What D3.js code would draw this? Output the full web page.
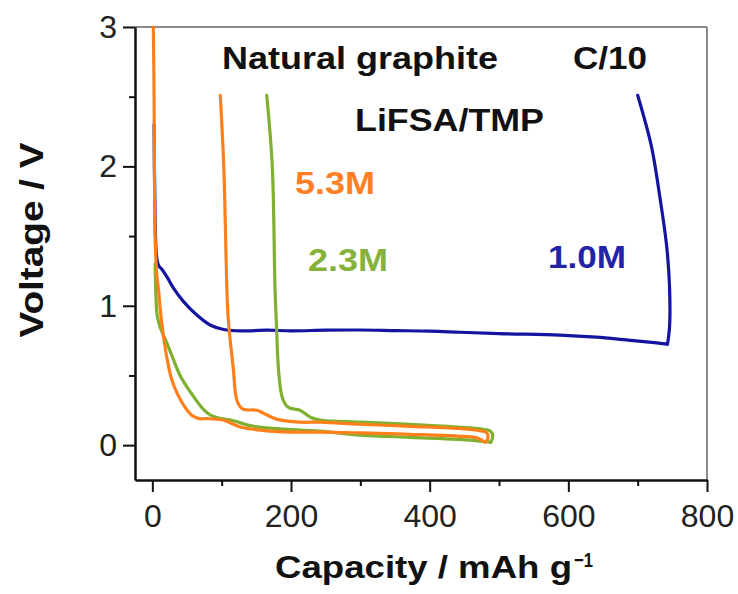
<!DOCTYPE html>
<html>
<head>
<meta charset="utf-8">
<script src="https://cdn.jsdelivr.net/npm/d3@7"></script>
<style>
  body { margin: 0; background: #fff; }
  svg text { font-family: "Liberation Sans", Arial, sans-serif; }
</style>
</head>
<body>
<svg id="svg1" width="738" height="594"></svg>
<script>
// [capacity mAh/g, voltage V]
var blueDischarge = [[2.5, 2.3], [3.5, 1.8], [6, 1.36], [9, 1.29], [14, 1.26], [22, 1.2], [30, 1.13], [45, 1.03],
  [65, 0.93], [84, 0.86], [103, 0.83], [127, 0.82], [166, 0.825], [200, 0.82], [250, 0.825], [300, 0.826],
  [350, 0.822], [400, 0.818], [444, 0.81], [500, 0.8], [588, 0.79], [640, 0.775], [684, 0.755], [720, 0.738], [743, 0.725]];
var blueCharge = [[743, 0.725], [746, 0.85], [746, 1.13], [742, 1.42], [732, 1.78], [720, 2.14], [700, 2.51]];

var greenDischarge = [[4, 1.3], [5, 1.1], [7, 0.93], [11, 0.85], [16, 0.79], [22, 0.72], [30, 0.62], [40, 0.5],
  [55, 0.38], [73, 0.26], [84, 0.215], [100, 0.19], [117, 0.175], [141, 0.14], [174, 0.12], [242, 0.1], [300, 0.072],
  [372, 0.056], [440, 0.042], [480, 0.026], [488, 0.02]];
var greenCharge = [[488, 0.02], [491, 0.06], [488, 0.1], [475, 0.115], [440, 0.13], [372, 0.15], [300, 0.165],
  [242, 0.18], [228, 0.2], [213, 0.25], [199, 0.265], [194, 0.28], [187, 0.35], [182, 0.54], [179, 0.87],
  [177, 1.11], [173, 2.0], [165, 2.51]];

var orangeDischarge = [[1.5, 3.0], [2.5, 2.5], [3, 2.0], [4, 1.5], [6, 1.25], [9, 1.11], [13, 0.9], [17, 0.75],
  [22, 0.6], [28, 0.47], [36, 0.37], [46, 0.28], [58, 0.21], [68, 0.19], [79, 0.19], [102, 0.18], [127, 0.13],
  [156, 0.108], [199, 0.094], [242, 0.094], [300, 0.088], [372, 0.078], [440, 0.065], [470, 0.05], [480, 0.02]];
var orangeCharge = [[480, 0.02], [484, 0.05], [482, 0.09], [470, 0.105], [440, 0.12], [372, 0.135], [300, 0.15],
  [242, 0.165], [213, 0.165], [180, 0.185], [160, 0.23], [151, 0.25], [130, 0.26], [122, 0.32], [117, 0.54],
  [115, 0.63], [110, 0.87], [108, 1.05], [103, 2.0], [98, 2.51]];

var xMajor = [0, 200, 400, 600, 800];
var xMinor = [100, 300, 500, 700];
var yMajor = [0, 1, 2, 3];
var yMinor = [0.5, 1.5, 2.5];

var blue = '#1414a0', green = '#7fb02f', orange = '#ff7f1a';

var svg = d3.select('svg');

var plotLeft = 135, plotRight = 707, plotTop = 27, plotBottom = 480;

var x = d3.scaleLinear().domain([-25, 800]).range([plotLeft, plotRight]);
var y = d3.scaleLinear().domain([-0.25, 3]).range([plotBottom, plotTop]);

// frame: top and right grey
svg.append('line').attr('x1', plotLeft).attr('x2', plotRight).attr('y1', plotTop).attr('y2', plotTop)
    .attr('stroke', '#8a8a8a').attr('stroke-width', 2);
svg.append('line').attr('x1', plotRight).attr('x2', plotRight).attr('y1', plotTop).attr('y2', plotBottom)
    .attr('stroke', '#8a8a8a').attr('stroke-width', 2);

// minor ticks
svg.append('g').attr('transform', 'translate(' + plotLeft + ',0)')
    .call(d3.axisLeft(y).tickValues(yMinor).tickSize(6).tickFormat(''))
    .call(function(g){ g.select('.domain').remove(); });
svg.append('g').attr('transform', 'translate(0,' + plotBottom + ')')
    .call(d3.axisBottom(x).tickValues(xMinor).tickSize(6).tickFormat(''))
    .call(function(g){ g.select('.domain').remove(); });

// major axes
var yAxis = svg.append('g').attr('transform', 'translate(' + plotLeft + ',0)')
    .call(d3.axisLeft(y).tickValues(yMajor).tickFormat(d3.format('d'))
      .tickSize(12).tickSizeOuter(0).tickPadding(6));
var xAxis = svg.append('g').attr('transform', 'translate(0,' + plotBottom + ')')
    .call(d3.axisBottom(x).tickValues(xMajor).tickFormat(d3.format('d'))
      .tickSize(12).tickSizeOuter(0).tickPadding(12));

svg.selectAll('.tick line').attr('stroke', '#111').attr('stroke-width', 2);
svg.selectAll('.domain').attr('stroke', '#111').attr('stroke-width', 2.5);
[yAxis, xAxis].forEach(function(a){
  a.selectAll('text').attr('font-size', 32).attr('fill', '#222')
      .attr('font-family', '"Liberation Sans", Arial, sans-serif');
});

// curves
var line = d3.line()
    .x(function(d){ return x(d[0]); })
    .y(function(d){ return y(d[1]); })
    .curve(d3.curveCatmullRom.alpha(0.5));

var curves = [
  {pts: blueDischarge, c: blue}, {pts: blueCharge, c: blue},
  {pts: greenDischarge, c: green}, {pts: greenCharge, c: green},
  {pts: orangeDischarge, c: orange}, {pts: orangeCharge, c: orange}
];

svg.selectAll('path.curve')
    .data(curves)
    .enter()
    .append('path')
    .attr('class', 'curve')
    .attr('d', function(d){ return line(d.pts); })
    .attr('fill', 'none')
    .attr('stroke', function(d){ return d.c; })
    .attr('stroke-width', 3.2)
    .attr('stroke-linejoin', 'round')
    .attr('stroke-linecap', 'round');

// annotations
var notes = [
  {t: 'Natural graphite', x: 222, y: 69, w: 276, c: '#111'},
  {t: 'C/10', x: 573, y: 69, w: 74, c: '#111'},
  {t: 'LiFSA/TMP', x: 355, y: 131, w: 189, c: '#111'},
  {t: '5.3M', x: 295, y: 194, w: 80, c: '#ff7f27'},
  {t: '2.3M', x: 308, y: 271, w: 80, c: '#86b23a'},
  {t: '1.0M', x: 548, y: 268, w: 78, c: '#2323a8'}
];

svg.selectAll('text.note')
    .data(notes)
    .enter()
    .append('text')
    .attr('class', 'note')
    .attr('x', function(d){ return d.x; })
    .attr('y', function(d){ return d.y; })
    .attr('textLength', function(d){ return d.w; })
    .attr('lengthAdjust', 'spacingAndGlyphs')
    .attr('font-size', 32)
    .attr('font-weight', 'bold')
    .attr('fill', function(d){ return d.c; })
    .text(function(d){ return d.t; });

// axis titles
svg.append('text')
    .attr('transform', 'translate(43,240) rotate(-90)')
    .attr('text-anchor', 'middle')
    .attr('textLength', 195)
    .attr('lengthAdjust', 'spacingAndGlyphs')
    .attr('font-size', 34)
    .attr('font-weight', 'bold')
    .attr('fill', '#111')
    .text('Voltage / V');

svg.append('text')
    .attr('x', 275).attr('y', 578)
    .attr('textLength', 297)
    .attr('lengthAdjust', 'spacingAndGlyphs')
    .attr('font-size', 32)
    .attr('font-weight', 'bold')
    .attr('fill', '#111')
    .text('Capacity / mAh g');
svg.append('text')
    .attr('x', 574).attr('y', 567)
    .attr('textLength', 19)
    .attr('lengthAdjust', 'spacingAndGlyphs')
    .attr('font-size', 20)
    .attr('font-weight', 'bold')
    .attr('fill', '#111')
    .text('−1');
</script>
</body>
</html>
